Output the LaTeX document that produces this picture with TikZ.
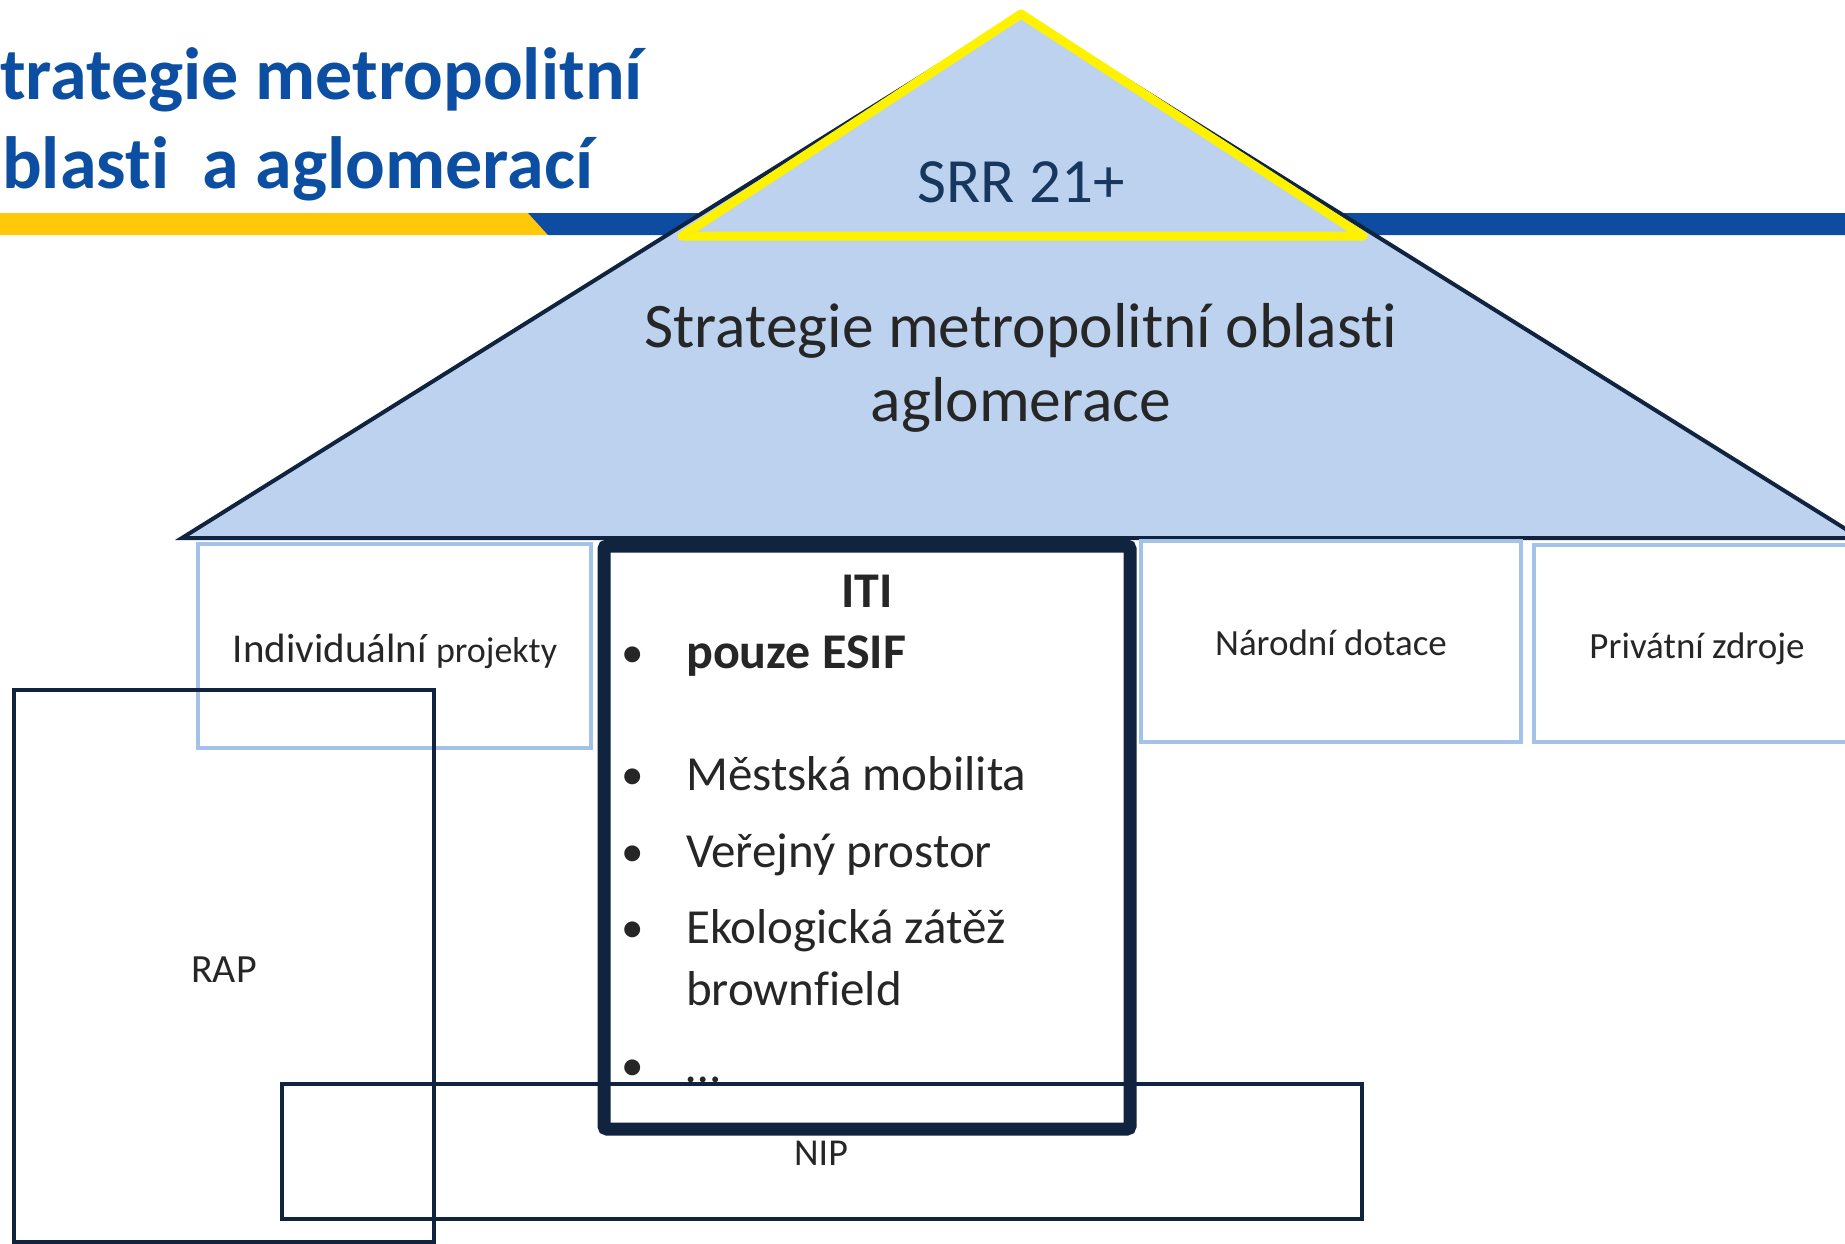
\documentclass[tikz,border=0pt]{standalone}
\usepackage{fontspec}
\setmainfont[Ligatures={NoCommon}]{Carlito}
\definecolor{titleblue}{RGB}{11,78,162}
\definecolor{barblue}{RGB}{13,76,161}
\definecolor{baryellow}{RGB}{255,200,8}
\definecolor{trifill}{RGB}{188,210,238}
\definecolor{navy}{RGB}{16,36,64}
\definecolor{srrtext}{RGB}{23,55,94}
\definecolor{lblue}{RGB}{164,194,232}
\definecolor{txt}{RGB}{38,38,38}
\tikzset{
  titletext/.style={inner sep=0pt, anchor=base west, text=titleblue, font=\fontsize{74}{88}\bfseries\selectfont},
  tritext/.style={inner sep=0pt, anchor=base, text=txt, font=\fontsize{63.5}{74}\selectfont},
  srrstyle/.style={inner sep=0pt, anchor=base, text=srrtext, font=\fontsize{63}{74}\selectfont},
  lbox/.style={draw=lblue, line width=4pt},
  boxtext/.style={inner sep=0pt, anchor=base, text=txt, font=\fontsize{37}{44}\selectfont},
  itilabel/.style={inner sep=0pt, anchor=base west, text=txt, font=\fontsize{49}{58}\selectfont},
  itibold/.style={inner sep=0pt, anchor=base west, text=txt, font=\fontsize{50}{60}\bfseries\selectfont},
  itibullet/.style={inner sep=0pt, anchor=base, text=txt, font=\fontsize{45}{56}\selectfont},
}
\begin{document}
\begin{tikzpicture}[x=1pt,y=-1pt]
\useasboundingbox (0,0) rectangle (1845,1244);
\clip (0,0) rectangle (1845,1244);
% header bars
\fill[baryellow] (0,213) -- (528,213) -- (548,235) -- (0,235) -- cycle;
\fill[barblue] (528,213) -- (1845,213) -- (1845,235) -- (548,235) -- cycle;
% title
\node[titletext] (t1) at (0,100) {trategie metropolitní};
\node[titletext] (t2) at (2,188) {blasti\ \ a aglomerací};
% roof
\filldraw[fill=trifill, draw=navy, line width=4pt, line join=miter] (1021,14) -- (1860,538) -- (182,538) -- cycle;
\filldraw[fill=trifill, draw=yellow, line width=9pt, line join=round] (1021,14) -- (1363,236) -- (682,236) -- cycle;
\node[srrstyle] (srr) at (1021,202) {SRR 21+};
\node[tritext] (smo1) at (1021,347) {Strategie metropolitní oblasti};
\node[tritext] (smo2) at (1021,421) {aglomerace};
% pillars
\draw[lbox] (198,544) rectangle (591,748);
\node[inner sep=0pt, anchor=base, text=txt] (indiv) at (395,662) {\fontsize{41}{48}\selectfont Individuální \fontsize{36}{44}\selectfont projekty};
\draw[lbox] (1141,541) rectangle (1521,742);
\node[boxtext] (narodni) at (1331,655) {Národní dotace};
\draw[lbox] (1534,545) rectangle (1870,742);
\node[boxtext] (privat) at (1697,658) {Privátní zdroje};
% ITI content
\node[inner sep=0pt, anchor=base, text=txt, font=\fontsize{50}{60}\bfseries\selectfont] (iti) at (867,607) {ITI};
\node[itibullet] (b1) at (633,667) {•};
\node[itibold] (l1) at (686,668) {pouze ESIF};
\node[itibullet] (b2) at (633,789) {•};
\node[itilabel] (l2) at (686,790) {Městská mobilita};
\node[itibullet] (b3) at (633,866) {•};
\node[itilabel] (l3) at (686,867) {Veřejný prostor};
\node[itibullet] (b4) at (633,942) {•};
\node[itilabel] (l4) at (686,943) {Ekologická zátěž};
\node[itilabel] (l5) at (686,1005) {brownfield};
\node[itibullet] (b6) at (633,1080) {•};
\node[itilabel] (l6) at (686,1082) {…};
% NIP
\filldraw[fill=white, draw=navy, line width=4.5pt] (282,1084) rectangle (1362,1219);
\node[boxtext, font=\fontsize{38}{46}\selectfont] (nip) at (821,1165) {NIP};
% ITI frame
\draw[navy, line width=13pt, rounded corners=3pt] (604,546) rectangle (1130,1129);
% RAP
\draw[navy, line width=4pt] (14,690) rectangle (434,1242);
\node[boxtext, font=\fontsize{40}{48}\selectfont] (rap) at (224,982) {RAP};
\end{tikzpicture}
\end{document}
